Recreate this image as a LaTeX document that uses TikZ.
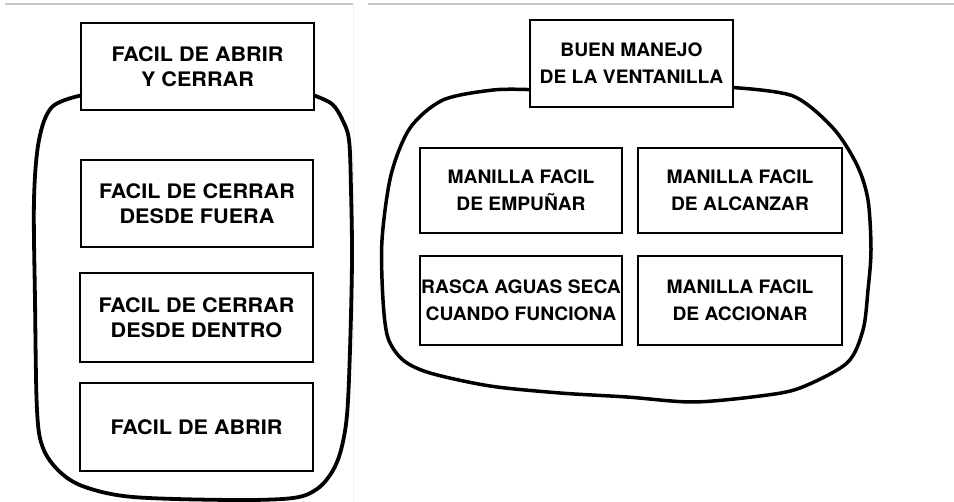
\documentclass[tikz,border=0pt]{standalone}
\usepackage{fontspec}
\newfontfamily\leftfont[FakeStretch=1.08]{TeX Gyre Heros}
\newfontfamily\rightfont[FakeStretch=1.04]{TeX Gyre Heros}
\begin{document}
\begin{tikzpicture}[x=1pt,y=-1pt,
  lbox/.style={draw, line width=1.2pt, rectangle, inner sep=0pt, align=center,
    font=\leftfont\bfseries\fontsize{20}{25}\selectfont},
  rbox/.style={draw, line width=1.2pt, rectangle, inner sep=0pt, align=center,
    font=\rightfont\bfseries\fontsize{18.5}{27}\selectfont},
  blob/.style={line width=3.8pt, line cap=round, line join=round},
  frame/.style={line width=1.4pt, draw=gray!45}]
\useasboundingbox (0,0) rectangle (954,502);
% panel frames
\draw[frame] (5,4) -- (353,4);
\draw[line width=1pt, draw=gray!12] (353,4) -- (353,502);
\draw[frame] (368,4) -- (954,4);

% left panel
\node[lbox, minimum width=233pt, minimum height=87pt] (t1) at (197.5,66.5) {FACIL DE ABRIR\\Y CERRAR};
\node[lbox, minimum width=232pt, minimum height=87pt] (l1) at (197,203.5) {FACIL DE CERRAR\\DESDE FUERA};
\node[lbox, minimum width=233pt, minimum height=89pt] (l2) at (196.5,317.5) {FACIL DE CERRAR\\DESDE DENTRO};
\node[lbox, minimum width=233pt, minimum height=88pt] (l3) at (196.5,427) {FACIL DE ABRIR};
\coordinate (la) at ([yshift=15pt]t1.south west);
\coordinate (lb) at ([yshift=15pt]t1.south east);
\draw[blob] plot[smooth, tension=0.55] coordinates {(la) (52,107) (39,140) (34,200) (35,300) (37,410) (43,448) (60,472) (85,487) (133,497) (233,500) (293,498) (317,489) (332,472) (341,450) (347,415) (350,350) (352,260) (351,190) (349,140) (342,119) (332,104) (lb)};

% right panel
\node[rbox, minimum width=203pt, minimum height=87pt] (t2) at (631.5,63.5) {BUEN MANEJO\\DE LA VENTANILLA};
\node[rbox, minimum width=202pt, minimum height=85pt] (r1) at (521,190.5) {MANILLA FACIL\\DE EMPUÑAR};
\node[rbox, minimum width=204pt, minimum height=85pt] (r2) at (740,190.5) {MANILLA FACIL\\DE ALCANZAR};
\node[rbox, minimum width=202pt, minimum height=89pt] (r3) at (521,300.5) {RASCA AGUAS SECA\\CUANDO FUNCIONA};
\node[rbox, minimum width=204pt, minimum height=89pt] (r4) at (740,300.5) {MANILLA FACIL\\DE ACCIONAR};
\coordinate (ra) at ([yshift=18pt]t2.south west);
\coordinate (rb) at ([yshift=20pt]t2.south east);
\draw[blob, line width=3.5pt] plot[smooth, tension=0.5] coordinates {(ra) (493,90) (443,100) (410,128) (391,175) (382,240) (383,300) (388,338) (403,360) (430,373) (490,386) (560,393) (627,397) (693,402) (760,396) (800,388) (847,363) (863,330) (868,290) (871,250) (868,200) (857,165) (833,128) (793,96) (rb)};
\end{tikzpicture}
\end{document}
